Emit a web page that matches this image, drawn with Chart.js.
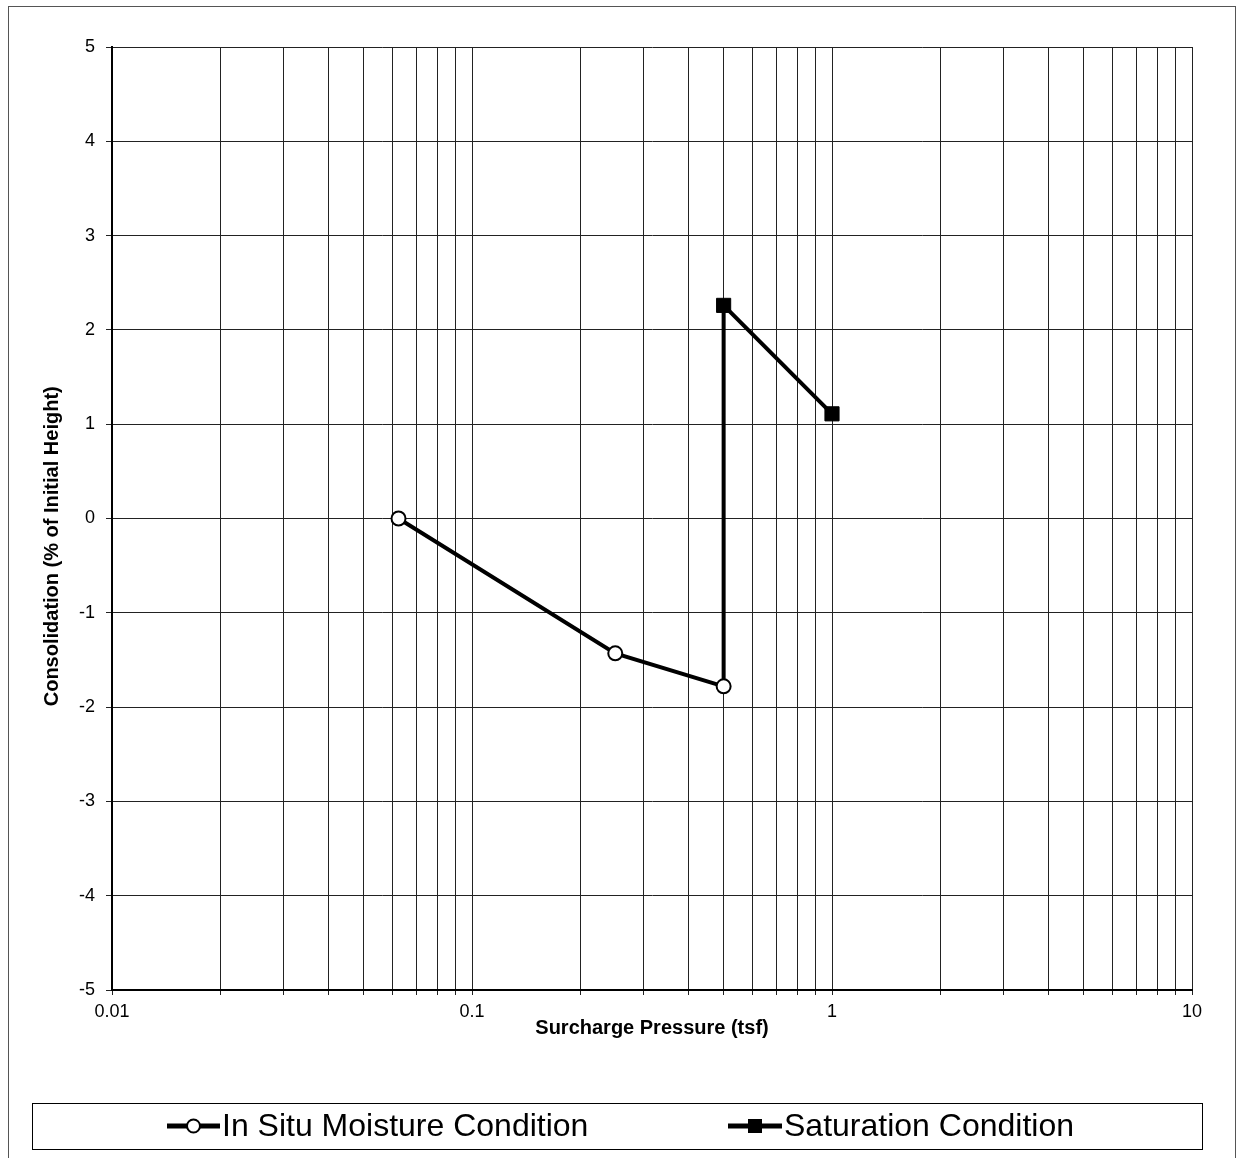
<!DOCTYPE html>
<html>
<head>
<meta charset="utf-8">
<script src="https://cdn.jsdelivr.net/npm/chart.js@4/dist/chart.umd.min.js"></script>
<style>
html,body{margin:0;padding:0;background:#fff;}
#wrap{position:relative;width:1238px;height:1158px;}
canvas{display:block;}
</style>
</head>
<body>
<div id="wrap"><canvas id="c" width="1238" height="1158"></canvas></div>
<script>
// ---- data ----
const seriesNames = ['In Situ Moisture Condition', 'Saturation Condition'];
const inSituPressure = [0.0625, 0.25, 0.5];
const inSituConsolidation = [0, -1.43, -1.78];
// saturation curve starts from the last in-situ reading (connector, no marker)
const saturationPressure = [0.5, 0.5, 1];
const saturationConsolidation = [-1.78, 2.26, 1.11];
const saturationMarkerShown = [false, true, true];
const xTickValues = [0.01,0.02,0.03,0.04,0.05,0.06,0.07,0.08,0.09,
                     0.1,0.2,0.3,0.4,0.5,0.6,0.7,0.8,0.9,
                     1,2,3,4,5,6,7,8,9,10];
const xLabelValues = [0.01, 0.1, 1, 10];
const xTickLabels = ['0.01', '0.1', '1', '10'];
const yMin = -5, yMax = 5, yStep = 1;
const xAxisTitle = 'Surcharge Pressure (tsf)';
const yAxisTitle = 'Consolidation (% of Initial Height)';

const FONT = '"Liberation Sans", Arial, Helvetica, sans-serif';

const toPoints = (xs, ys) => xs.map((x, i) => ({x: x, y: ys[i]}));

const frameAndLegend = {
  id: 'frameAndLegend',
  beforeDraw(chart) {
    const ctx = chart.ctx;
    ctx.save();
    ctx.fillStyle = '#fff';
    ctx.fillRect(0, 0, chart.width, chart.height);
    ctx.restore();
  },
  afterDraw(chart) {
    const ctx = chart.ctx;
    ctx.save();
    // outer frame
    ctx.strokeStyle = '#555';
    ctx.lineWidth = 1;
    ctx.strokeRect(8.5, 6.5, 1227, 1160);
    // legend box
    ctx.strokeStyle = '#000';
    ctx.strokeRect(32.5, 1103.5, 1170, 46);
    const cy = 1126;
    const items = [
      {ds: chart.data.datasets[0], x0: 167, x1: 220, tx: 222},
      {ds: chart.data.datasets[1], x0: 728, x1: 782, tx: 784}
    ];
    items.forEach(it => {
      const ds = it.ds;
      ctx.strokeStyle = ds.borderColor;
      ctx.lineWidth = 5;
      ctx.beginPath();
      ctx.moveTo(it.x0, cy);
      ctx.lineTo(it.x1, cy);
      ctx.stroke();
      const cx = (it.x0 + it.x1) / 2;
      if (ds.pointStyle === 'rect') {
        ctx.fillStyle = '#000';
        ctx.fillRect(cx - 7, cy - 7, 14, 14);
      } else {
        ctx.beginPath();
        ctx.arc(cx, cy, 6.5, 0, Math.PI * 2);
        ctx.fillStyle = '#fff';
        ctx.fill();
        ctx.lineWidth = 2;
        ctx.strokeStyle = '#000';
        ctx.stroke();
      }
      ctx.fillStyle = '#000';
      ctx.font = '32px ' + FONT;
      ctx.textBaseline = 'middle';
      ctx.textAlign = 'left';
      ctx.fillText(ds.label, it.tx, cy + 1);
    });
    ctx.restore();
  }
};

new Chart(document.getElementById('c'), {
  type: 'scatter',
  data: {
    datasets: [
      {
        label: seriesNames[0],
        data: toPoints(inSituPressure, inSituConsolidation),
        showLine: true,
        borderColor: '#000',
        borderWidth: 4,
        pointStyle: 'circle',
        pointRadius: 7,
        pointBorderWidth: 2,
        pointBackgroundColor: '#fff',
        pointBorderColor: '#000'
      },
      {
        label: seriesNames[1],
        data: toPoints(saturationPressure, saturationConsolidation),
        showLine: true,
        borderColor: '#000',
        borderWidth: 4,
        pointStyle: 'rect',
        pointRadius: saturationMarkerShown.map(s => s ? 10 : 0),
        pointBorderWidth: 1,
        pointBackgroundColor: '#000',
        pointBorderColor: '#000'
      }
    ]
  },
  options: {
    responsive: false,
    animation: false,
    devicePixelRatio: 1,
    layout: {padding: {left: 30, right: 46, top: 47, bottom: 118}},
    plugins: {
      legend: {display: false},
      tooltip: {enabled: false}
    },
    scales: {
      x: {
        type: 'logarithmic',
        position: 'bottom',
        min: 0.01,
        max: 10,
        afterBuildTicks: s => { s.ticks = xTickValues.map(v => ({value: v})); },
        afterFit: s => { s.height = 50; },
        ticks: {
          autoSkip: false,
          maxRotation: 0,
          minRotation: 0,
          color: '#000',
          padding: 6,
          font: {family: FONT, size: 18},
          callback: v => {
            const i = xLabelValues.findIndex(l => Math.abs(l - v) < 1e-9);
            return i >= 0 ? xTickLabels[i] : '';
          }
        },
        grid: {color: '#222', lineWidth: 1, tickLength: 5, drawTicks: true},
        border: {color: '#000', width: 2},
        title: {
          display: true,
          text: xAxisTitle,
          color: '#000',
          font: {family: FONT, size: 20, weight: 'bold'},
          padding: {top: 0, bottom: 0}
        }
      },
      y: {
        type: 'linear',
        min: yMin,
        max: yMax,
        afterFit: s => { s.width = 82; },
        ticks: {
          stepSize: yStep,
          color: '#000',
          padding: 11,
          font: {family: FONT, size: 18}
        },
        grid: {color: '#222', lineWidth: 1, tickLength: 6, drawTicks: true},
        border: {color: '#000', width: 2},
        title: {
          display: true,
          // trailing spaces shift the centred title slightly down, as in the original
          text: yAxisTitle + '          ',
          color: '#000',
          font: {family: FONT, size: 20, weight: 'bold'},
          padding: {top: 10, bottom: 0}
        }
      }
    }
  },
  plugins: [frameAndLegend]
});
</script>
</body>
</html>
